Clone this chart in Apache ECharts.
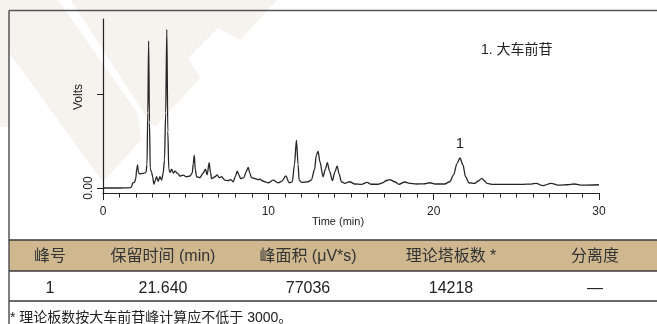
<!DOCTYPE html>
<html>
<head>
<meta charset="utf-8">
<script src="https://cdn.jsdelivr.net/npm/echarts@6/dist/echarts.min.js"></script>
<style>
  html, body { margin: 0; padding: 0; background: #fff; }
  #chart { width: 657px; height: 324px; }
</style>
</head>
<body>
<div id="chart"></div>
<script>
// Chromatogram trace: retention time (min) and detector response (V)
const times = [
  0, 1.0, 1.6, 1.72, 1.8, 1.9, 1.98, 2.04, 2.09, 2.14, 2.2, 2.4, 2.6, 2.66, 2.71, 2.76, 2.81, 2.86,
  2.94, 3.0, 3.08, 3.16, 3.24, 3.34, 3.44, 3.55, 3.64, 3.72, 3.79, 3.86, 3.92, 3.98, 4.06, 4.15,
  4.25, 4.35, 4.51, 4.65, 4.85, 5.05, 5.26, 5.4, 5.46, 5.52, 5.58, 5.66, 5.86, 6.06, 6.2, 6.3,
  6.42, 6.5, 6.57, 6.77, 6.9, 7.03, 7.17, 7.37, 7.57, 7.72, 7.87, 8.0, 8.12, 8.22, 8.32, 8.52,
  8.65, 8.78, 8.88, 8.98, 9.18, 9.38, 9.5, 9.6, 9.79, 9.99, 10.29, 10.6, 10.8, 11.06, 11.26,
  11.45, 11.58, 11.7, 11.8, 11.86, 12.0, 12.4, 12.6, 12.8, 12.9, 13.01, 13.12, 13.31, 13.45,
  13.57, 13.7, 13.88, 14.02, 14.16, 14.28, 14.42, 14.62, 14.92, 15.23, 15.63, 15.97, 16.23,
  16.64, 16.9, 17.14, 17.34, 17.64, 17.9, 18.25, 18.55, 18.95, 19.4, 19.76, 20.1, 20.66, 20.97,
  21.2, 21.41, 21.59, 21.77, 21.93, 22.13, 22.48, 22.7, 22.92, 23.08, 23.22, 23.58, 24.5, 25.4,
  25.9, 26.2, 26.6, 27.1, 27.6, 28.1, 28.5, 29.0, 30
];
const volts = [
  0, 0, 0.002, 0.01, 0.055, 0.06, 0.1, 0.2, 0.245, 0.17, 0.15, 0.155, 0.165, 0.25, 0.8, 1.567, 0.7, 0.2,
  0.17, 0.12, 0.04, 0.08, 0.12, 0.07, 0.12, 0.085, 0.16, 0.3, 0.8, 1.69, 0.6, 0.2, 0.165, 0.2,
  0.16, 0.18, 0.156, 0.128, 0.138, 0.12, 0.128, 0.16, 0.26, 0.35, 0.2, 0.12, 0.11, 0.16, 0.2, 0.14,
  0.27, 0.17, 0.1, 0.12, 0.14, 0.11, 0.12, 0.085, 0.078, 0.09, 0.067, 0.12, 0.18, 0.14, 0.1, 0.11,
  0.17, 0.22, 0.16, 0.11, 0.1, 0.09, 0.095, 0.08, 0.067, 0.056, 0.085, 0.056, 0.07, 0.128, 0.056,
  0.065, 0.25, 0.51, 0.25, 0.085, 0.06, 0.067, 0.085, 0.2, 0.35, 0.39, 0.28, 0.12, 0.2,
  0.27, 0.18, 0.078, 0.17, 0.234, 0.15, 0.067, 0.05, 0.067, 0.043, 0.039, 0.06, 0.04,
  0.04, 0.055, 0.08, 0.09, 0.067, 0.039, 0.064, 0.05, 0.043, 0.045, 0.056, 0.043, 0.043, 0.067,
  0.138, 0.26, 0.32, 0.245, 0.12, 0.056, 0.05, 0.075, 0.103, 0.075, 0.05, 0.039, 0.038, 0.039,
  0.042, 0.05, 0.025, 0.05, 0.03, 0.035, 0.043, 0.03, 0.035
];

// Identified peak
const peakNames = ['1'];
const peakTimes = [21.59];
const peakVolts = [0.32];
const legendText = '1. 大车前苷';

// Axis ticks
const yTickValues = [0, 1];
const yLabelValues = [0];

// Results table
const tableHeaders = ['峰号', '保留时间 (min)', '峰面积 (μV*s)', '理论塔板数 *', '分离度'];
const tableRow = ['1', '21.640', '77036', '14218', '—'];
const footnote = '* 理论板数按大车前苷峰计算应不低于 3000。';

const FONT = "'Liberation Sans Narrow', 'Liberation Sans', 'Noto Sans CJK SC', sans-serif";
const colX = [50, 163, 308, 451, 595];

const chart = echarts.init(document.getElementById('chart'), null, { renderer: 'canvas' });

const graphics = [
  // faint background logo
  { type: 'polygon', z: -10, silent: true,
    shape: { points: [[0,0],[58,0],[138,114],[141,140],[103,182],[0,40]] },
    style: { fill: '#f6f2ee' } },
  { type: 'polygon', z: -10, silent: true,
    shape: { points: [[71,0],[277,0],[240,40],[218,28],[188,58],[200,78],[155,127],[147,118]] },
    style: { fill: '#f6f2ee' } },
  { type: 'rect', z: -10, silent: true, shape: { x: 0, y: 0, width: 9, height: 127 }, style: { fill: '#f6f2ee' } },
  // outer frame
  { type: 'line', z: 5, shape: { x1: 9, y1: 10.5, x2: 657, y2: 10.5 }, style: { stroke: '#555', lineWidth: 1.5 } },
  { type: 'line', z: 5, shape: { x1: 9, y1: 10.5, x2: 9, y2: 324 }, style: { stroke: '#555', lineWidth: 1.5 } },
  // table header band
  { type: 'rect', z: 4, shape: { x: 9, y: 240, width: 648, height: 31 }, style: { fill: '#cfb88f' } },
  { type: 'line', z: 5, shape: { x1: 9, y1: 240, x2: 657, y2: 240 }, style: { stroke: '#3a3a3a', lineWidth: 1.5 } },
  { type: 'line', z: 5, shape: { x1: 9, y1: 271, x2: 657, y2: 271 }, style: { stroke: '#3a3a3a', lineWidth: 1.5 } },
  { type: 'line', z: 5, shape: { x1: 9, y1: 301, x2: 657, y2: 301 }, style: { stroke: '#3a3a3a', lineWidth: 1.5 } },
  // axis titles and compound name
  { type: 'text', z: 5, x: 338, y: 222,
    style: { text: 'Time (min)', font: "11px " + FONT, fill: '#222', align: 'center', verticalAlign: 'middle' } },
  { type: 'text', z: 5, x: 79, y: 97, rotation: Math.PI / 2,
    style: { text: 'Volts', font: "12px " + FONT, fill: '#222', align: 'center', verticalAlign: 'middle' } },
  { type: 'text', z: 5, x: 481, y: 50,
    style: { text: legendText, font: "14px " + FONT, fill: '#222', align: 'left', verticalAlign: 'middle' } },
  { type: 'text', z: 5, x: 10, y: 318,
    style: { text: footnote, font: "14px " + FONT, fill: '#222', align: 'left', verticalAlign: 'middle' } }
];
tableHeaders.forEach((h, i) => graphics.push({
  type: 'text', z: 6, x: colX[i], y: 257,
  style: { text: h, font: "16px " + FONT, fill: '#333', align: 'center', verticalAlign: 'middle' }
}));
tableRow.forEach((v, i) => graphics.push({
  type: 'text', z: 6, x: colX[i], y: 289,
  style: { text: v, font: "16px " + FONT, fill: '#222', align: 'center', verticalAlign: 'middle' }
}));

chart.setOption({
  animation: false,
  backgroundColor: '#ffffff',
  grid: { left: 103, right: 58, top: 19, bottom: 131, containLabel: false },
  xAxis: {
    type: 'value', min: 0, max: 30, interval: 10,
    axisLine: { onZero: false, lineStyle: { color: '#222', width: 1.2 } },
    axisTick: { show: true, length: 7, lineStyle: { color: '#222', width: 1 } },
    minorTick: { show: true, splitNumber: 10, length: 4.5, lineStyle: { color: '#222', width: 1 } },
    splitLine: { show: false },
    axisLabel: { margin: 13, fontSize: 12, fontFamily: FONT, color: '#222' }
  },
  yAxis: {
    type: 'value', min: -0.053, max: 1.8,
    axisLine: { show: true, onZero: false, lineStyle: { color: '#222', width: 1.2 } },
    axisTick: { show: true, length: 6, customValues: yTickValues, lineStyle: { color: '#222' } },
    splitLine: { show: false },
    axisLabel: {
      show: true, customValues: yLabelValues, rotate: 90, margin: 8,
      fontSize: 12, fontFamily: FONT, color: '#222',
      formatter: v => v.toFixed(2)
    }
  },
  series: [{
    type: 'line',
    data: times.map((t, i) => [t, volts[i]]),
    showSymbol: false,
    smooth: 0.3,
    smoothMonotone: 'x',
    lineStyle: { color: '#262626', width: 1.3 },
    markPoint: {
      symbol: 'circle', symbolSize: 0,
      label: { show: true, position: 'top', distance: 7, fontSize: 15, fontFamily: FONT, color: '#222',
        formatter: p => p.name },
      data: peakNames.map((n, i) => ({ name: n, coord: [peakTimes[i], peakVolts[i]] }))
    }
  }],
  graphic: graphics
});
</script>
</body>
</html>
